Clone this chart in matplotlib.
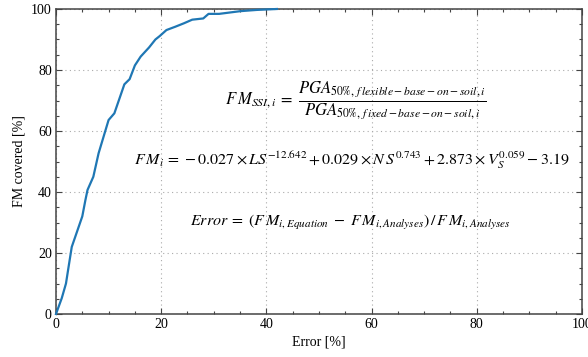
import matplotlib
matplotlib.use("Agg")
import matplotlib.pyplot as plt
from matplotlib.ticker import MultipleLocator

plt.rcParams["font.family"] = ["Liberation Serif", "DejaVu Serif"]
plt.rcParams["mathtext.fontset"] = "stix"

# Cumulative share of FM values covered within a given error
error_pct = [0.0, 1.1, 1.9, 2.4, 3.0, 4.0, 5.0, 5.6, 6.0, 7.1, 8.1, 10.0, 11.1,
             13.0, 14.0, 15.0, 16.1, 17.7, 18.9, 19.7, 21.0, 22.7, 24.3, 25.9,
             28.0, 29.0, 31.0, 35.1, 38.2, 42.0]
fm_covered = [0.0, 5.2, 10.0, 15.5, 22.0, 27.0, 32.0, 37.4, 40.7, 45.0, 52.7,
              63.6, 65.8, 75.3, 77.0, 81.5, 84.4, 87.4, 90.0, 91.1, 93.1, 94.2,
              95.3, 96.5, 96.9, 98.4, 98.4, 99.3, 99.7, 100.0]

fig = plt.figure(figsize=(5.88, 3.57), dpi=100)
ax = fig.add_axes([0.0952, 0.1204, 0.8946, 0.8544])

ax.plot(error_pct, fm_covered, color="#1f77b4", lw=1.6, clip_on=False, zorder=3)

ax.set_xlim(0, 100)
ax.set_ylim(0, 100)
ax.xaxis.set_major_locator(MultipleLocator(20))
ax.xaxis.set_minor_locator(MultipleLocator(5))
ax.yaxis.set_major_locator(MultipleLocator(20))
ax.yaxis.set_minor_locator(MultipleLocator(5))
ax.tick_params(which="both", direction="in", top=True, right=True,
               color="#444444", labelsize=10, pad=3)
ax.tick_params(which="major", length=4, width=0.8)
ax.tick_params(which="minor", length=2.5, width=0.8)
for s in ax.spines.values():
    s.set_color("#444444")
    s.set_linewidth(1.1)
ax.grid(True, which="major", linestyle=(0, (1, 3)), color="#aaaaaa", lw=0.8)

ax.set_xlabel("Error [%]", fontsize=10, labelpad=3)
ax.set_ylabel("FM covered [%]", fontsize=10, labelpad=4)

eq1 = (r"$F\,M_{SSI,i}\;=\;\dfrac{PGA_{\mathrm{50\%},\,f\,lexible-base-on-soil,i}}"
       r"{PGA_{\mathrm{50\%},\,f\,ixed-base-on-soil,i}}$")
eq2 = (r"$F\,M_i\,=\,-0.027\times LS^{-12.642} + 0.029\times N\,S^{0.743}"
       r" + 2.873\times V_S^{0.059} - 3.19$")
eq3 = (r"$Error\;=\;(F\,M_{i,Equation}\;-\;F\,M_{i,Analyses})\,/\,"
       r"F\,M_{i,Analyses}$")

ax.text(0.57, 0.70, eq1, transform=ax.transAxes, ha="center", va="center",
        fontsize=12)
ax.text(0.563, 0.505, eq2, transform=ax.transAxes, ha="center", va="center",
        fontsize=11.5)
ax.text(0.56, 0.30, eq3, transform=ax.transAxes, ha="center", va="center",
        fontsize=11.5)

fig.savefig("out.png", dpi=100)
